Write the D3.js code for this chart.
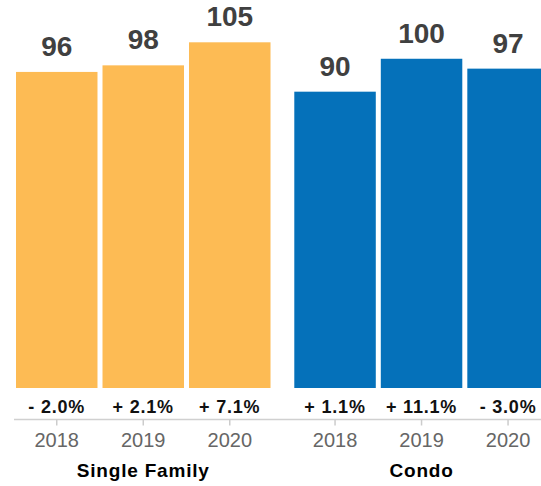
<!DOCTYPE html>
<html>
<head>
<meta charset="utf-8">
<script src="https://cdn.jsdelivr.net/npm/d3@7"></script>
<style>
  html, body { margin: 0; padding: 0; background: #fff; overflow: hidden; }
  svg { display: block; font-family: "Helvetica Neue", Helvetica, Arial, "Liberation Sans", sans-serif; }
</style>
</head>
<body>
<div id="viz"></div>
<script>
// chart data
const groups = ["Single Family", "Condo"];
const years = ["2018", "2019", "2020"];
const singleFamily = [96, 98, 105];
const condo = [90, 100, 97];
const singleFamilyChange = ["- 2.0%", "+ 2.1%", "+ 7.1%"];
const condoChange = ["+ 1.1%", "+ 11.1%", "- 3.0%"];

const COLORS = { "Single Family": "#FDBB54", "Condo": "#0571BA" };

const WIDTH = 541, HEIGHT = 486;
const baseline = 388;

const rows = [
  { group: "Single Family", values: singleFamily, changes: singleFamilyChange },
  { group: "Condo", values: condo, changes: condoChange }
];

const svg = d3.select("#viz").append("svg")
  .attr("width", WIDTH)
  .attr("height", HEIGHT);

const x0 = d3.scaleBand()
  .domain(groups)
  .range([16, 548.8])
  .paddingInner(0.0855);

const x1 = d3.scaleBand()
  .domain(years)
  .range([0, x0.bandwidth()])
  .paddingInner(0.058);

const y = d3.scaleLinear()
  .domain([0, 105])
  .range([baseline, 42.3]);

// axis baseline across the whole chart
svg.append("line")
  .attr("x1", 14)
  .attr("x2", WIDTH)
  .attr("y1", 419.5)
  .attr("y2", 419.5)
  .attr("stroke", "#d0d0d0")
  .attr("stroke-width", 1.5);

const g = svg.selectAll(".group")
  .data(rows)
  .join("g")
  .attr("class", "group")
  .attr("transform", d => `translate(${x0(d.group)},0)`);

g.selectAll("rect")
  .data(d => d.values.map((v, i) => ({ group: d.group, year: years[i], value: v })))
  .join("rect")
  .attr("x", d => x1(d.year))
  .attr("y", d => y(d.value))
  .attr("width", x1.bandwidth())
  .attr("height", d => baseline - y(d.value))
  .attr("fill", d => COLORS[d.group]);

g.selectAll(".value")
  .data(d => d.values.map((v, i) => ({ year: years[i], value: v })))
  .join("text")
  .attr("class", "value")
  .attr("x", d => x1(d.year) + x1.bandwidth() / 2)
  .attr("y", d => y(d.value) - 16)
  .attr("text-anchor", "middle")
  .style("font-size", "28px")
  .style("font-weight", "bold")
  .style("fill", "#404040")
  .text(d => d.value);

g.selectAll(".change")
  .data(d => d.changes.map((c, i) => ({ year: years[i], change: c })))
  .join("text")
  .attr("class", "change")
  .attr("x", d => x1(d.year) + x1.bandwidth() / 2)
  .attr("y", 412.7)
  .attr("text-anchor", "middle")
  .style("font-size", "18px")
  .style("letter-spacing", "0.8px")
  .style("font-weight", "bold")
  .style("fill", "#111")
  .text(d => d.change);

// year ticks
g.append("g")
  .attr("transform", "translate(0,419.5)")
  .call(d3.axisBottom(x1).tickSize(6).tickPadding(8))
  .call(a => a.select(".domain").remove())
  .call(a => a.selectAll(".tick line").attr("stroke", "#ccc").attr("stroke-width", 1.5))
  .call(a => a.selectAll(".tick text")
    .attr("dy", null)
    .attr("y", 27.8)
    .style("font-size", "20px")
    .style("font-family", "inherit")
    .style("fill", "#666"));

g.append("text")
  .attr("x", x0.bandwidth() / 2)
  .attr("y", 477.3)
  .attr("text-anchor", "middle")
  .style("font-size", "19px")
  .style("letter-spacing", "0.8px")
  .style("font-weight", "bold")
  .style("fill", "#000")
  .text(d => d.group);
</script>
</body>
</html>
